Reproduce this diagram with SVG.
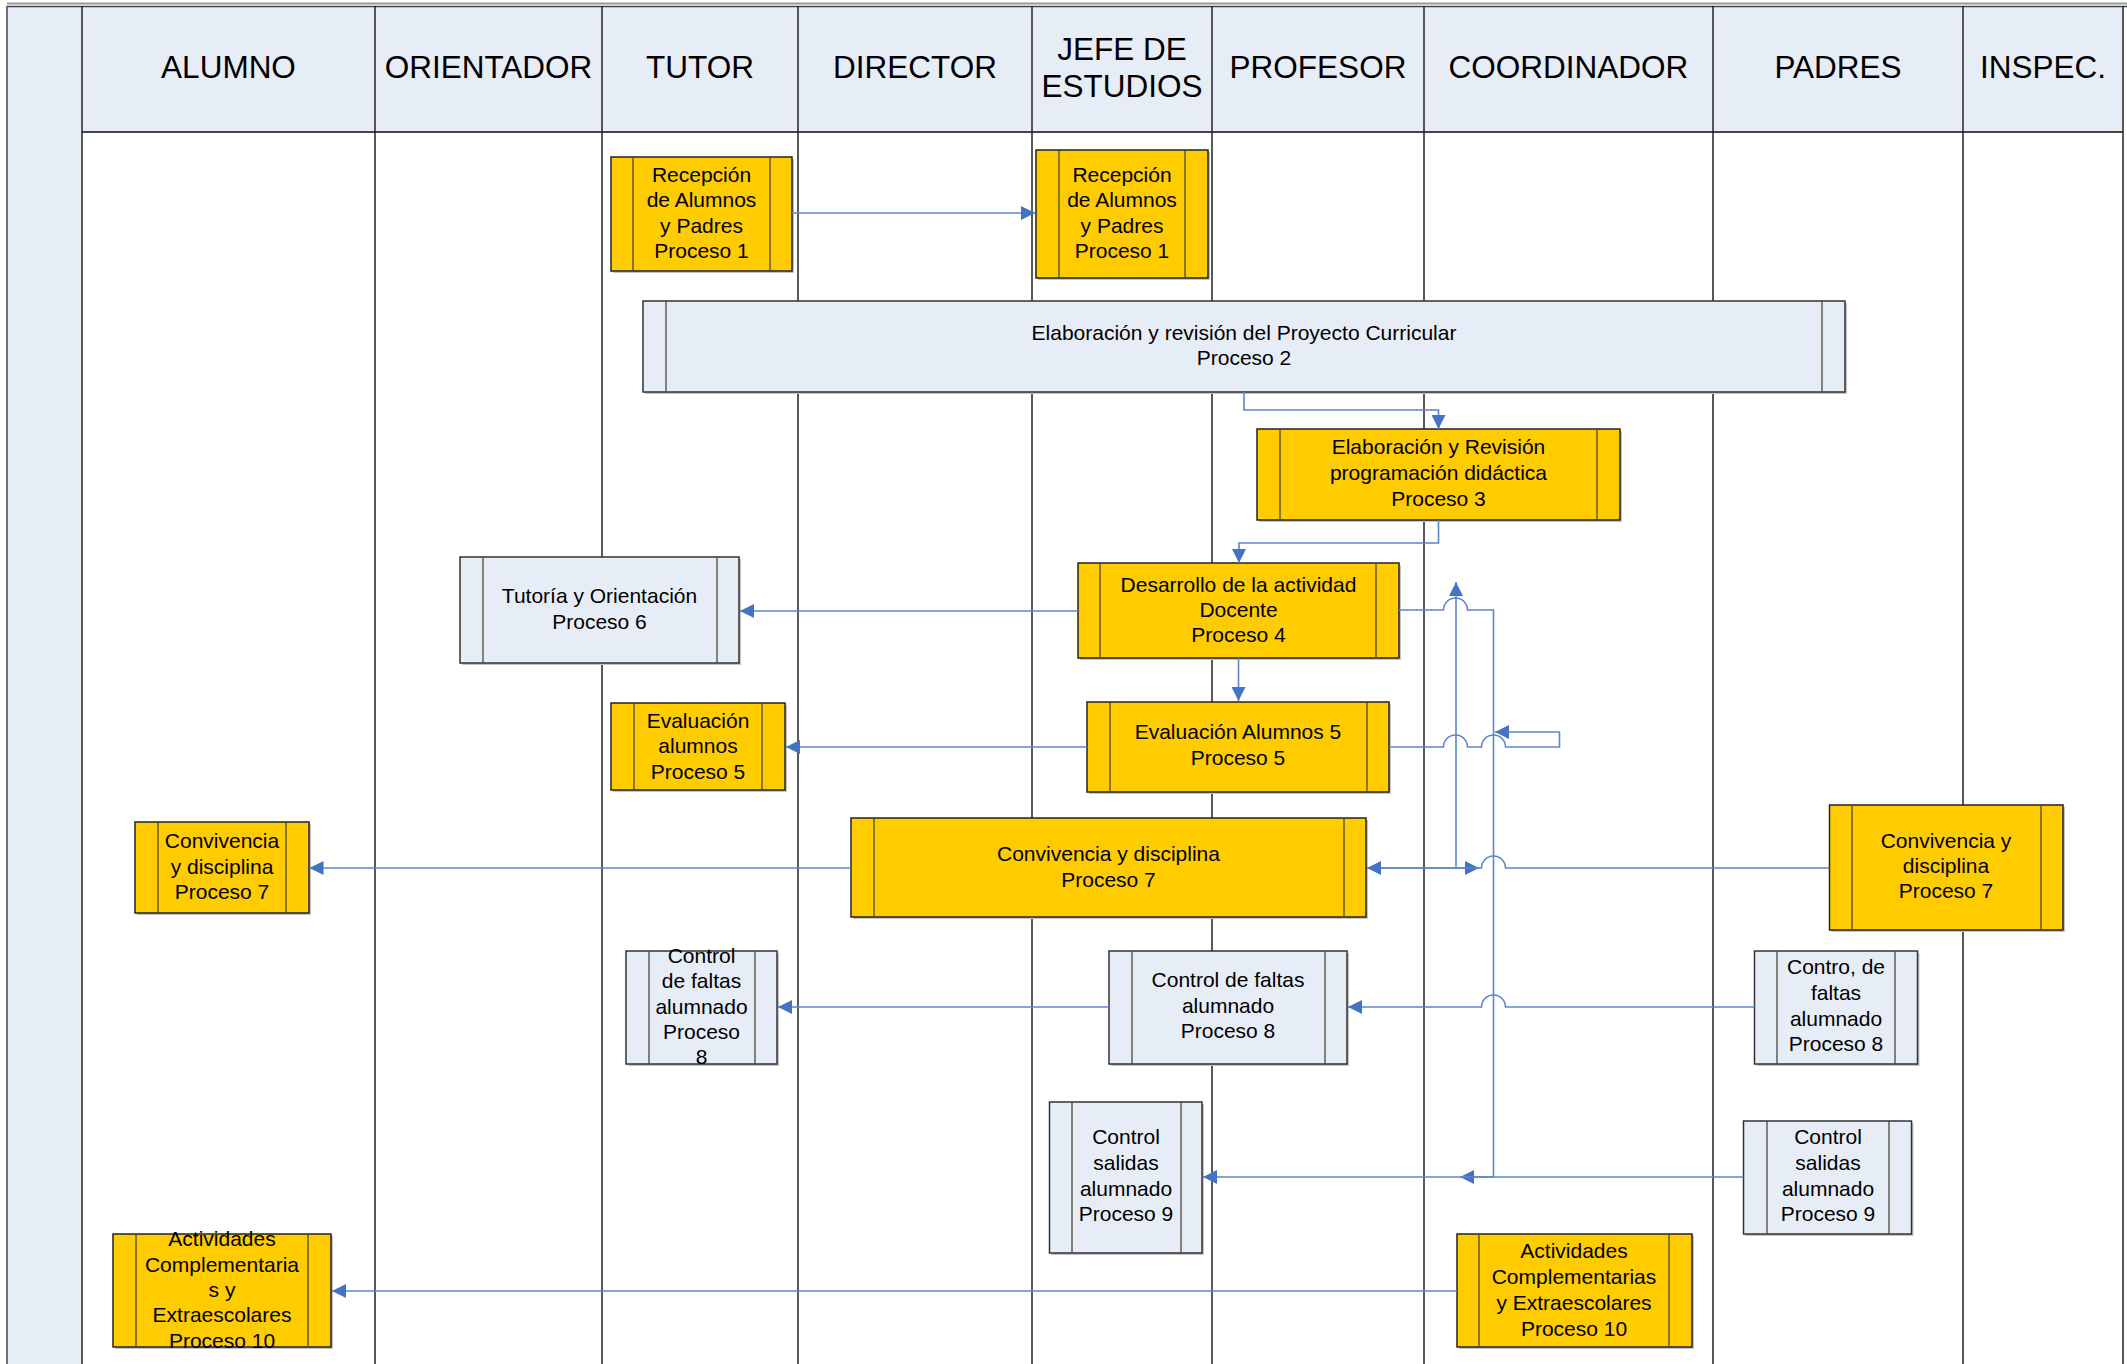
<svg xmlns="http://www.w3.org/2000/svg" width="2127" height="1364" viewBox="0 0 2127 1364">
<defs>
<style>
.lane{stroke:#222;stroke-width:1.5;fill:none}
.hd{font-family:"Liberation Sans",Arial,sans-serif;font-size:31.5px;fill:#000;text-anchor:middle}
.t{font-family:"Liberation Sans",Arial,sans-serif;font-size:21px;fill:#000;text-anchor:middle}
.y{fill:#FFCC00;stroke:#222;stroke-width:1.5}
.b{fill:#E7EDF7;stroke:#333;stroke-width:1.5}
.sh{fill:#c4c4c4}
.in{stroke:#4a4a3a;stroke-width:1.3}
.c{fill:none;stroke:#5B87C7;stroke-width:1.6}
</style>
<marker id="ar" markerUnits="userSpaceOnUse" markerWidth="15" markerHeight="14" refX="14" refY="7" orient="auto">
<path d="M0,0 L14,7 L0,14 z" fill="#4472C4"/>
</marker>
</defs>
<rect x="0" y="0" width="2127" height="1364" fill="#fff"/>
<g id="frame">
<rect x="7" y="6" width="75" height="1358" fill="#E7EDF7"/>
<rect x="82" y="6" width="2041" height="126" fill="#E7EDF7"/>
<line x1="7" y1="3.5" x2="2127" y2="3.5" stroke="#999" stroke-width="2"/>
<line x1="7" y1="6.5" x2="2127" y2="6.5" stroke="#444" stroke-width="1.5"/>
<line x1="7" y1="6" x2="7" y2="1364" stroke="#444" stroke-width="1.5"/>
<line x1="82" y1="132" x2="2123" y2="132" stroke="#444" stroke-width="2.2"/>
<g class="lane">
<line x1="82" y1="6" x2="82" y2="1364"/>
<line x1="375" y1="6" x2="375" y2="1364"/>
<line x1="602" y1="6" x2="602" y2="1364"/>
<line x1="798" y1="6" x2="798" y2="1364"/>
<line x1="1032" y1="6" x2="1032" y2="1364"/>
<line x1="1212" y1="6" x2="1212" y2="1364"/>
<line x1="1424" y1="6" x2="1424" y2="1364"/>
<line x1="1713" y1="6" x2="1713" y2="1364"/>
<line x1="1963" y1="6" x2="1963" y2="1364"/>
<line x1="2123" y1="6" x2="2123" y2="1364"/>
</g>
<text class="hd" x="228.5" y="78">ALUMNO</text>
<text class="hd" x="488.5" y="78">ORIENTADOR</text>
<text class="hd" x="700" y="78">TUTOR</text>
<text class="hd" x="915" y="78">DIRECTOR</text>
<text class="hd" x="1122" y="60">JEFE DE</text>
<text class="hd" x="1122" y="97">ESTUDIOS</text>
<text class="hd" x="1318" y="78">PROFESOR</text>
<text class="hd" x="1568.5" y="78">COORDINADOR</text>
<text class="hd" x="1838" y="78">PADRES</text>
<text class="hd" x="2043" y="78">INSPEC.</text>
</g>

<g id="n1">
<rect class="sh" x="613" y="159" width="181" height="114"/>
<rect class="y" x="611" y="157" width="181" height="114"/>
<line class="in" x1="633" y1="157" x2="633" y2="271"/><line class="in" x1="770" y1="157" x2="770" y2="271"/>
<text class="t"><tspan x="701.5" y="182">Recepción</tspan><tspan x="701.5" y="207">de Alumnos</tspan><tspan x="701.5" y="232.5">y Padres</tspan><tspan x="701.5" y="258">Proceso 1</tspan></text>
</g>
<g id="n2">
<rect class="sh" x="1038" y="152" width="172" height="128"/>
<rect class="y" x="1036" y="150" width="172" height="128"/>
<line class="in" x1="1059" y1="150" x2="1059" y2="278"/><line class="in" x1="1185" y1="150" x2="1185" y2="278"/>
<text class="t"><tspan x="1122" y="182">Recepción</tspan><tspan x="1122" y="207">de Alumnos</tspan><tspan x="1122" y="232.5">y Padres</tspan><tspan x="1122" y="258">Proceso 1</tspan></text>
</g>
<g id="n3">
<rect class="sh" x="645" y="303" width="1202" height="91"/>
<rect class="b" x="643" y="301" width="1202" height="91"/>
<line class="in" x1="666" y1="301" x2="666" y2="392"/><line class="in" x1="1822" y1="301" x2="1822" y2="392"/>
<text class="t"><tspan x="1244" y="340">Elaboración y revisión del Proyecto Curricular</tspan><tspan x="1244" y="365">Proceso 2</tspan></text>
</g>
<g id="n4">
<rect class="sh" x="1259" y="431" width="363" height="91"/>
<rect class="y" x="1257" y="429" width="363" height="91"/>
<line class="in" x1="1280" y1="429" x2="1280" y2="520"/><line class="in" x1="1597" y1="429" x2="1597" y2="520"/>
<text class="t"><tspan x="1438.5" y="454">Elaboración y Revisión</tspan><tspan x="1438.5" y="480">programación didáctica</tspan><tspan x="1438.5" y="506">Proceso 3</tspan></text>
</g>
<g id="n5">
<rect class="sh" x="1080" y="565" width="321" height="95"/>
<rect class="y" x="1078" y="563" width="321" height="95"/>
<line class="in" x1="1100" y1="563" x2="1100" y2="658"/><line class="in" x1="1376" y1="563" x2="1376" y2="658"/>
<text class="t"><tspan x="1238.5" y="592">Desarrollo de la actividad</tspan><tspan x="1238.5" y="617">Docente</tspan><tspan x="1238.5" y="642">Proceso 4</tspan></text>
</g>
<g id="n6">
<rect class="sh" x="462" y="559" width="279" height="106"/>
<rect class="b" x="460" y="557" width="279" height="106"/>
<line class="in" x1="483" y1="557" x2="483" y2="663"/><line class="in" x1="717" y1="557" x2="717" y2="663"/>
<text class="t"><tspan x="599.5" y="603">Tutoría y Orientación</tspan><tspan x="599.5" y="629">Proceso 6</tspan></text>
</g>
<g id="n7">
<rect class="sh" x="613" y="705" width="174" height="87"/>
<rect class="y" x="611" y="703" width="174" height="87"/>
<line class="in" x1="634" y1="703" x2="634" y2="790"/><line class="in" x1="762" y1="703" x2="762" y2="790"/>
<text class="t"><tspan x="698" y="728">Evaluación</tspan><tspan x="698" y="753">alumnos</tspan><tspan x="698" y="779">Proceso 5</tspan></text>
</g>
<g id="n8">
<rect class="sh" x="1089" y="704" width="302" height="90"/>
<rect class="y" x="1087" y="702" width="302" height="90"/>
<line class="in" x1="1110" y1="702" x2="1110" y2="792"/><line class="in" x1="1367" y1="702" x2="1367" y2="792"/>
<text class="t"><tspan x="1238" y="739">Evaluación Alumnos 5</tspan><tspan x="1238" y="765">Proceso 5</tspan></text>
</g>
<g id="n9">
<rect class="sh" x="137" y="824" width="174" height="91"/>
<rect class="y" x="135" y="822" width="174" height="91"/>
<line class="in" x1="158" y1="822" x2="158" y2="913"/><line class="in" x1="286" y1="822" x2="286" y2="913"/>
<text class="t"><tspan x="222" y="848">Convivencia</tspan><tspan x="222" y="874">y disciplina</tspan><tspan x="222" y="899">Proceso 7</tspan></text>
</g>
<g id="n10">
<rect class="sh" x="853" y="820" width="515" height="99"/>
<rect class="y" x="851" y="818" width="515" height="99"/>
<line class="in" x1="874" y1="818" x2="874" y2="917"/><line class="in" x1="1344" y1="818" x2="1344" y2="917"/>
<text class="t"><tspan x="1108.5" y="861">Convivencia y disciplina</tspan><tspan x="1108.5" y="887">Proceso 7</tspan></text>
</g>
<g id="n11">
<rect class="sh" x="1831.5" y="807" width="233.5" height="125"/>
<rect class="y" x="1829.5" y="805" width="233.5" height="125"/>
<line class="in" x1="1852" y1="805" x2="1852" y2="930"/><line class="in" x1="2041" y1="805" x2="2041" y2="930"/>
<text class="t"><tspan x="1946" y="848">Convivencia y</tspan><tspan x="1946" y="873">disciplina</tspan><tspan x="1946" y="898">Proceso 7</tspan></text>
</g>
<g id="n12">
<rect class="sh" x="628" y="953" width="151" height="113"/>
<rect class="b" x="626" y="951" width="151" height="113"/>
<line class="in" x1="649" y1="951" x2="649" y2="1064"/><line class="in" x1="755" y1="951" x2="755" y2="1064"/>
<text class="t"><tspan x="701.5" y="962.5">Control</tspan><tspan x="701.5" y="988">de faltas</tspan><tspan x="701.5" y="1014">alumnado</tspan><tspan x="701.5" y="1039">Proceso</tspan><tspan x="701.5" y="1064">8</tspan></text>
</g>
<g id="n13">
<rect class="sh" x="1111" y="953" width="238" height="113"/>
<rect class="b" x="1109" y="951" width="238" height="113"/>
<line class="in" x1="1132" y1="951" x2="1132" y2="1064"/><line class="in" x1="1325" y1="951" x2="1325" y2="1064"/>
<text class="t"><tspan x="1228" y="987">Control de faltas</tspan><tspan x="1228" y="1013">alumnado</tspan><tspan x="1228" y="1038">Proceso 8</tspan></text>
</g>
<g id="n14">
<rect class="sh" x="1756.5" y="953" width="163" height="113"/>
<rect class="b" x="1754.5" y="951" width="163" height="113"/>
<line class="in" x1="1777" y1="951" x2="1777" y2="1064"/><line class="in" x1="1895" y1="951" x2="1895" y2="1064"/>
<text class="t"><tspan x="1836" y="974">Contro, de</tspan><tspan x="1836" y="1000">faltas</tspan><tspan x="1836" y="1026">alumnado</tspan><tspan x="1836" y="1051">Proceso 8</tspan></text>
</g>
<g id="n15">
<rect class="sh" x="1051.5" y="1104" width="152.5" height="151"/>
<rect class="b" x="1049.5" y="1102" width="152.5" height="151"/>
<line class="in" x1="1072" y1="1102" x2="1072" y2="1253"/><line class="in" x1="1181" y1="1102" x2="1181" y2="1253"/>
<text class="t"><tspan x="1126" y="1144">Control</tspan><tspan x="1126" y="1170">salidas</tspan><tspan x="1126" y="1196">alumnado</tspan><tspan x="1126" y="1221">Proceso 9</tspan></text>
</g>
<g id="n16">
<rect class="sh" x="1745.5" y="1123" width="168" height="113"/>
<rect class="b" x="1743.5" y="1121" width="168" height="113"/>
<line class="in" x1="1767" y1="1121" x2="1767" y2="1234"/><line class="in" x1="1889" y1="1121" x2="1889" y2="1234"/>
<text class="t"><tspan x="1828" y="1144">Control</tspan><tspan x="1828" y="1170">salidas</tspan><tspan x="1828" y="1196">alumnado</tspan><tspan x="1828" y="1221">Proceso 9</tspan></text>
</g>
<g id="n17">
<rect class="sh" x="115" y="1236" width="218" height="113"/>
<rect class="y" x="113" y="1234" width="218" height="113"/>
<line class="in" x1="136" y1="1234" x2="136" y2="1347"/><line class="in" x1="308" y1="1234" x2="308" y2="1347"/>
<text class="t"><tspan x="222" y="1246">Actividades</tspan><tspan x="222" y="1272">Complementaria</tspan><tspan x="222" y="1297">s y</tspan><tspan x="222" y="1322">Extraescolares</tspan><tspan x="222" y="1348">Proceso 10</tspan></text>
</g>
<g id="n18">
<rect class="sh" x="1459" y="1236" width="235" height="113"/>
<rect class="y" x="1457" y="1234" width="235" height="113"/>
<line class="in" x1="1479" y1="1234" x2="1479" y2="1347"/><line class="in" x1="1669" y1="1234" x2="1669" y2="1347"/>
<text class="t"><tspan x="1574" y="1258">Actividades</tspan><tspan x="1574" y="1284">Complementarias</tspan><tspan x="1574" y="1310">y Extraescolares</tspan><tspan x="1574" y="1336">Proceso 10</tspan></text>
</g>

<g id="connectors">
<path class="c" marker-end="url(#ar)" d="M792,213 H1035"/>
<path class="c" marker-end="url(#ar)" d="M1244,392 V410 H1438.5 V429"/>
<path class="c" marker-end="url(#ar)" d="M1438.5,520 V543 H1239 V563"/>
<path class="c" marker-end="url(#ar)" d="M1078,611 H740"/>
<path class="c" marker-end="url(#ar)" d="M1238.5,658 V701"/>
<path class="c" marker-end="url(#ar)" d="M1399,610 H1443.5 A12,12 0 0 1 1467.5,610 H1493.5 V1177 H1460"/>
<path class="c" marker-end="url(#ar)" d="M1087,747 H786"/>
<path class="c" marker-end="url(#ar)" d="M1389,747 H1443.5 A12,12 0 0 1 1467.5,747 H1481.5 A12,12 0 0 1 1505.5,747 H1559.5 V732 H1495"/>
<path class="c" marker-end="url(#ar)" d="M851,868 H309.5"/>
<path class="c" marker-end="url(#ar)" d="M1456,868 V582"/>
<path class="c" marker-end="url(#ar)" d="M1380,868 H1479"/>
<path class="c" marker-end="url(#ar)" d="M1829.5,868 H1505.5 A12,12 0 0 0 1481.5,868 H1367"/>
<path class="c" marker-end="url(#ar)" d="M1754.5,1007 H1505.5 A12,12 0 0 0 1481.5,1007 H1348"/>
<path class="c" marker-end="url(#ar)" d="M1109,1007 H778"/>
<path class="c" marker-end="url(#ar)" d="M1743.5,1177 H1203"/>
<path class="c" marker-end="url(#ar)" d="M1457,1291 H332"/>
</g>
</svg>
